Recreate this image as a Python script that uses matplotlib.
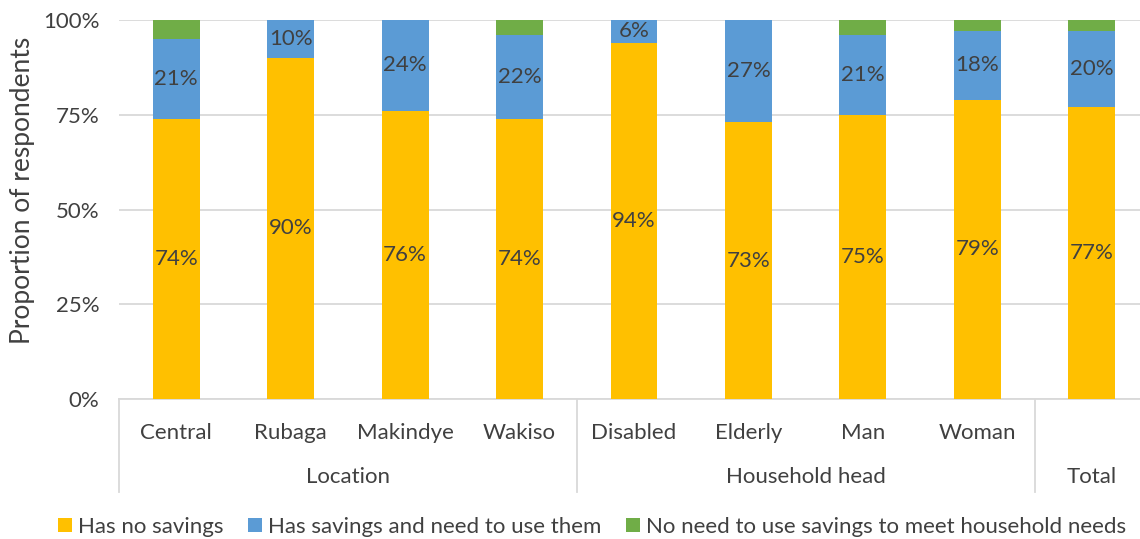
import numpy as np
import matplotlib.pyplot as plt

# data
categories = ['Central', 'Rubaga', 'Makindye', 'Wakiso', 'Disabled', 'Elderly', 'Man', 'Woman', '']
groups = ['Location', 'Household head', 'Total']
group_sizes = [4, 4, 1]
no_savings = [74, 90, 76, 74, 94, 73, 75, 79, 77]
need_to_use = [21, 10, 24, 22, 6, 27, 21, 18, 20]
no_need = [5, 0, 0, 4, 0, 0, 4, 3, 3]
series_names = ['Has no savings', 'Has savings and need to use them',
                'No need to use savings to meet household needs']

plt.rcParams['font.family'] = ['Lato', 'DejaVu Sans']
txt = '#404040'
grid = '#d9d9d9'
colors = ['#ffc000', '#5b9bd5', '#70ad47']
fs = 16

fig = plt.figure(figsize=(11.4, 5.39), dpi=100)
ax = fig.add_axes([119/1140, 140/539, 1030/1140, 379/539])

x = np.arange(len(categories))
w = 0.41
y1 = np.array(no_savings)
y2 = np.array(need_to_use)
y3 = np.array(no_need)
ax.bar(x, y1, w, color=colors[0], label=series_names[0], zorder=3)
ax.bar(x, y2, w, bottom=y1, color=colors[1], label=series_names[1], zorder=3)
ax.bar(x, y3, w, bottom=y1 + y2, color=colors[2], label=series_names[2], zorder=3)

for i in range(len(x)):
    ax.text(x[i], y1[i] / 2, '%d%%' % y1[i], ha='center', va='center', fontsize=fs, color=txt, zorder=4)
    ax.text(x[i], y1[i] + y2[i] / 2, '%d%%' % y2[i], ha='center', va='center', fontsize=fs, color=txt, zorder=4)

ax.set_xlim(-0.5, len(x) - 0.5)
ax.set_ylim(0, 100)
ax.set_yticks([0, 25, 50, 75, 100])
ax.set_yticklabels(['0%', '25%', '50%', '75%', '100%'])
ax.grid(axis='y', color=grid, lw=1.3, zorder=0)
ax.set_xticks(x)
ax.set_xticklabels(categories)
ax.tick_params(axis='x', length=0, pad=17, labelsize=fs, labelcolor=txt)
ax.tick_params(axis='y', length=0, pad=14, labelsize=fs, labelcolor=txt)
for s in ['top', 'right', 'left']:
    ax.spines[s].set_visible(False)
ax.spines['bottom'].set_color(grid)
ax.spines['bottom'].set_linewidth(1.3)
ax.set_ylabel('Proportion of respondents', fontsize=19, color=txt)
ax.yaxis.set_label_coords(-0.082, 0.55)

# group separators and group labels under the category axis
trans = ax.get_xaxis_transform()
start = -0.5
for g, n in zip(groups, group_sizes):
    ax.plot([start, start], [0, -0.245], transform=trans, color=grid, lw=1.3, clip_on=False)
    ax.text(start + n / 2, -0.205, g, transform=trans, ha='center', va='center', fontsize=fs, color=txt)
    start += n
ax.plot([start, start], [0, -0.245], transform=trans, color=grid, lw=1.3, clip_on=False)

fig.legend(loc='center', bbox_to_anchor=(592/1140, 12/539), ncol=3, frameon=False,
           fontsize=fs, handlelength=0.63, handleheight=0.63, handletextpad=0.27,
           columnspacing=1.1, labelcolor=txt)

plt.savefig('out.png')
